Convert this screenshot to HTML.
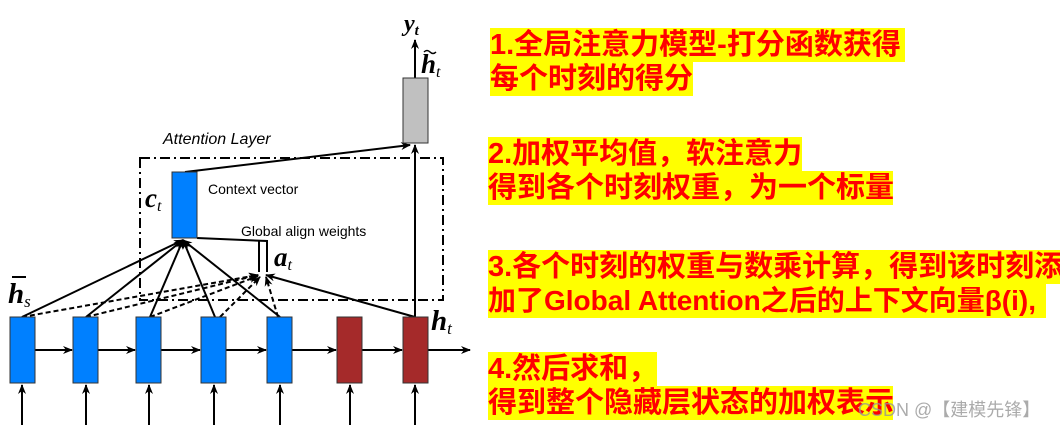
<!DOCTYPE html>
<html><head><meta charset="utf-8"><style>
body{margin:0;width:1063px;height:425px;background:#fff;position:relative;overflow:hidden}
.t{position:absolute;background:#ffff00;color:#f00;font-family:"Liberation Sans","Noto Sans CJK SC",sans-serif;font-size:29px;font-weight:bold;height:34px;line-height:34px;white-space:nowrap;overflow:hidden}
svg{position:absolute;left:0;top:0}
.m{font-family:"Liberation Serif",serif;font-style:italic;font-weight:bold}
</style></head><body>
<svg width="480" height="425" viewBox="0 0 480 425">
<defs><marker id="a" markerWidth="10" markerHeight="8" refX="9" refY="4" orient="auto" markerUnits="userSpaceOnUse"><path d="M0,0 L10,4 L0,8 L3,4z" fill="#000"/></marker></defs>
<g stroke="#000" stroke-width="2" fill="none">
<rect x="140" y="158" width="303" height="142" stroke-dasharray="10,4,2,4"/>
<line x1="22" y1="425" x2="22" y2="385" marker-end="url(#a)"/>
<line x1="86" y1="425" x2="86" y2="385" marker-end="url(#a)"/>
<line x1="149" y1="425" x2="149" y2="385" marker-end="url(#a)"/>
<line x1="214" y1="425" x2="214" y2="385" marker-end="url(#a)"/>
<line x1="280" y1="425" x2="280" y2="385" marker-end="url(#a)"/>
<line x1="350" y1="425" x2="350" y2="385" marker-end="url(#a)"/>
<line x1="415" y1="425" x2="415" y2="385" marker-end="url(#a)"/>
<line x1="35" y1="350" x2="72" y2="350" marker-end="url(#a)"/>
<line x1="98" y1="350" x2="135" y2="350" marker-end="url(#a)"/>
<line x1="161" y1="350" x2="200" y2="350" marker-end="url(#a)"/>
<line x1="226" y1="350" x2="266" y2="350" marker-end="url(#a)"/>
<line x1="292" y1="350" x2="336" y2="350" marker-end="url(#a)"/>
<line x1="362" y1="350" x2="402" y2="350" marker-end="url(#a)"/>
<line x1="428" y1="350" x2="470" y2="350" marker-end="url(#a)"/>
<line x1="415" y1="317" x2="415" y2="145" marker-end="url(#a)"/>
<line x1="185" y1="172" x2="410" y2="145" marker-end="url(#a)"/>
<line x1="415" y1="78" x2="415" y2="40" marker-end="url(#a)"/>
<line x1="22" y1="317" x2="183" y2="240" marker-end="url(#a)"/>
<line x1="86" y1="317" x2="183" y2="240" marker-end="url(#a)"/>
<line x1="150" y1="317" x2="183" y2="240" marker-end="url(#a)"/>
<line x1="215" y1="317" x2="183" y2="240" marker-end="url(#a)"/>
<line x1="280" y1="317" x2="183" y2="240" marker-end="url(#a)"/>
<line x1="415" y1="317" x2="266" y2="275" marker-end="url(#a)"/>
<polyline points="197,238 267,241 267,272"/>
<line x1="259" y1="241" x2="259" y2="272"/>
<g stroke-dasharray="5,3">
<line x1="22" y1="317" x2="258" y2="275" marker-end="url(#a)"/>
<line x1="86" y1="317" x2="258" y2="275" marker-end="url(#a)"/>
<line x1="150" y1="317" x2="258" y2="276" marker-end="url(#a)"/>
<line x1="220" y1="317" x2="260" y2="277" marker-end="url(#a)"/>
<line x1="278" y1="317" x2="266" y2="277" marker-end="url(#a)"/>
</g>
</g>
<g stroke="#333" stroke-width="1">
<rect x="10" y="317" width="25" height="66" fill="#0080ff"/>
<rect x="73" y="317" width="25" height="66" fill="#0080ff"/>
<rect x="136" y="317" width="25" height="66" fill="#0080ff"/>
<rect x="201" y="317" width="25" height="66" fill="#0080ff"/>
<rect x="267" y="317" width="25" height="66" fill="#0080ff"/>
<rect x="337" y="317" width="25" height="66" fill="#a52a2a"/>
<rect x="403" y="317" width="25" height="66" fill="#a52a2a"/>
<rect x="403" y="78" width="25" height="65" fill="#c0c0c0"/>
<rect x="172" y="172" width="25" height="66" fill="#0080ff"/>
</g>
<g font-family="Liberation Sans,sans-serif" fill="#000">
<text x="163" y="144" font-size="16" font-style="italic">Attention Layer</text>
<text x="208" y="194" font-size="14">Context vector</text>
<text x="241" y="236" font-size="14">Global align weights</text>
</g>
<text class="m" x="404" y="31" font-size="24" font-weight="normal">y<tspan font-size="15" dy="4">t</tspan></text>
<text class="m" x="421" y="73" font-size="27">h<tspan font-size="16" dy="4" font-weight="normal">t</tspan></text>
<path d="M424,52 q3,-3 6,0 t6,0" stroke="#000" stroke-width="1.5" fill="none"/>
<text class="m" x="145" y="207" font-size="27">c<tspan font-size="16" dy="4" font-weight="normal">t</tspan></text>
<text class="m" x="274" y="266" font-size="27">a<tspan font-size="16" dy="4" font-weight="normal">t</tspan></text>
<text class="m" x="8" y="303" font-size="29">h<tspan font-size="17" dy="4" font-weight="normal">s</tspan></text>
<line x1="12" y1="277" x2="26" y2="277" stroke="#000" stroke-width="2"/>
<text class="m" x="431" y="330" font-size="29">h<tspan font-size="17" dy="4" font-weight="normal">t</tspan></text>
</svg>
<div class="t" style="left:490px;top:28px;width:415px">1.全局注意力模型-打分函数获得</div>
<div class="t" style="left:490px;top:62px;width:203px">每个时刻的得分</div>
<div class="t" style="left:488px;top:137px;width:314px">2.加权平均值，软注意力</div>
<div class="t" style="left:488px;top:171px;width:405px">得到各个时刻权重，为一个标量</div>
<div class="t" style="left:488px;top:250px;width:572px">3.各个时刻的权重与数乘计算，得到该时刻添</div>
<div class="t" style="left:488px;top:284px;width:558px;font-size:28px">加了Global Attention之后的上下文向量β(i),</div>
<div class="t" style="left:488px;top:352px;width:169px">4.然后求和，</div>
<div class="t" style="left:488px;top:386px;width:405px">得到整个隐藏层状态的加权表示</div>
<div style="position:absolute;left:858px;top:396px;font-family:'Liberation Sans','Noto Sans CJK SC',sans-serif;font-size:18px;color:rgba(150,150,150,0.8)">CSDN @【建模先锋】</div>
</body></html>
